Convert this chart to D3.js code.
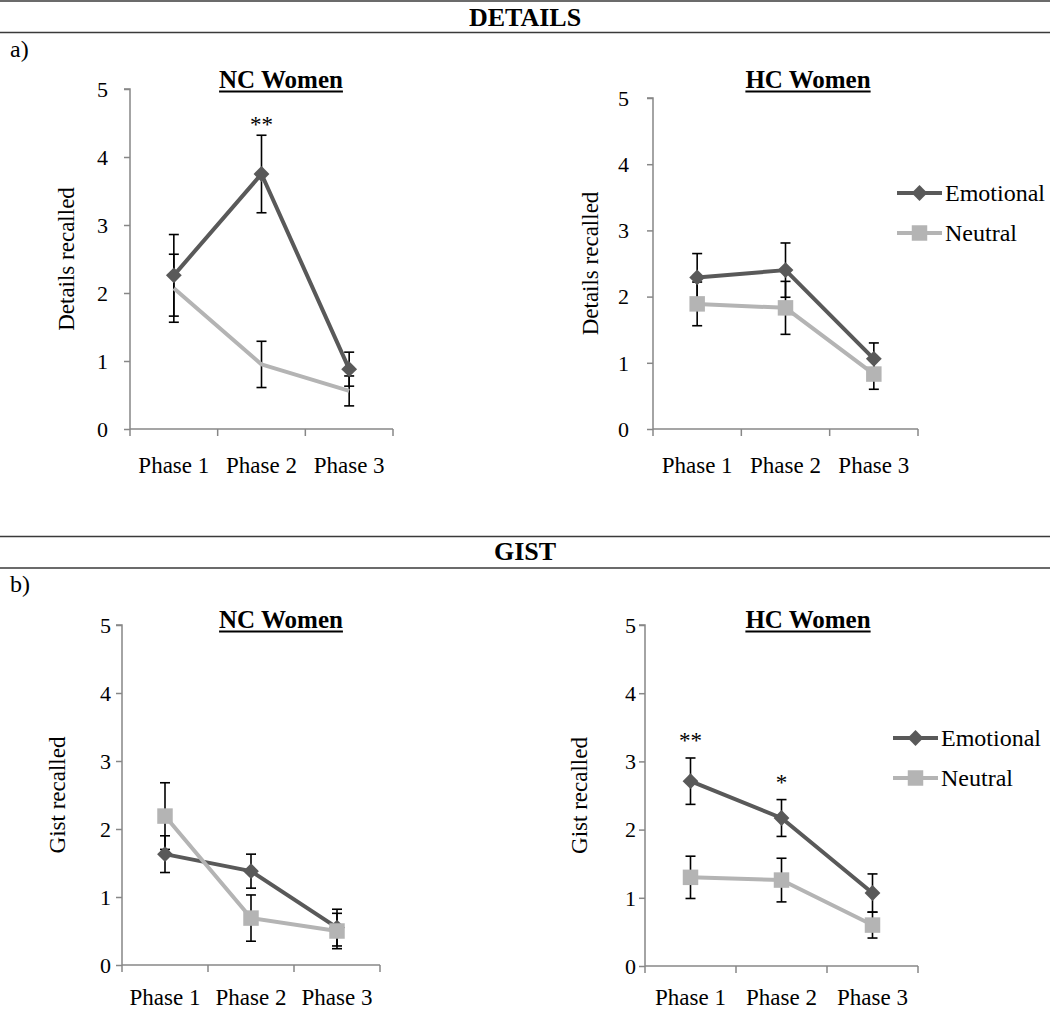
<!DOCTYPE html>
<html>
<head>
<meta charset="utf-8">
<script src="https://cdn.jsdelivr.net/npm/d3@7"></script>
<style>
  html, body { margin: 0; padding: 0; background: #fff; }
  svg { display: block; }
  text { font-family: "Liberation Serif", "Times New Roman", serif; fill: #000; }
</style>
</head>
<body>
<svg id="chart" width="1050" height="1009" font-family="Liberation Serif, Times New Roman, serif"></svg>
<script>
// ---------- DATA ----------
const phases = ["Phase 1", "Phase 2", "Phase 3"];
const yTickValues = [0, 1, 2, 3, 4, 5];
const seriesNames = ["Emotional", "Neutral"];
const sectionTitles = ["DETAILS", "GIST"];
const sectionLetters = ["a)", "b)"];
const groupTitles = ["NC Women", "HC Women"];
const yAxisTitles = ["Details recalled", "Gist recalled"];

// Details recalled
const detailsNCEmotional    = [2.26, 3.75, 0.88];
const detailsNCEmotionalErr = [0.60, 0.57, 0.25];
const detailsNCNeutral      = [2.07, 0.95, 0.56];
const detailsNCNeutralErr   = [0.50, 0.34, 0.22];
const detailsNCSig          = ["", "**", ""];

const detailsHCEmotional    = [2.29, 2.40, 1.06];
const detailsHCEmotionalErr = [0.36, 0.41, 0.24];
const detailsHCNeutral      = [1.89, 1.83, 0.83];
const detailsHCNeutralErr   = [0.33, 0.40, 0.23];
const detailsHCSig          = ["", "", ""];

// Gist recalled
const gistNCEmotional    = [1.63, 1.38, 0.55];
const gistNCEmotionalErr = [0.27, 0.25, 0.27];
const gistNCNeutral      = [2.19, 0.69, 0.50];
const gistNCNeutralErr   = [0.49, 0.34, 0.26];
const gistNCSig          = ["", "", ""];

const gistHCEmotional    = [2.71, 2.17, 1.07];
const gistHCEmotionalErr = [0.34, 0.27, 0.28];
const gistHCNeutral      = [1.30, 1.26, 0.60];
const gistHCNeutralErr   = [0.31, 0.32, 0.19];
const gistHCSig          = ["**", "*", ""];

// ---------- STYLE / LAYOUT ----------
const emoColor = "#595959";
const neuColor = "#b4b4b4";
const axisColor = "#878787";

const panels = [
  { title: groupTitles[0], ylabel: yAxisTitles[0],
    emo: detailsNCEmotional, emoErr: detailsNCEmotionalErr,
    neu: detailsNCNeutral, neuErr: detailsNCNeutralErr, sig: detailsNCSig,
    x0: 130, x1: 393, yTop: 89, yBot: 429, tickLabelX: 108, ylabelX: 66,
    titleCx: 281, titleY: 88, phaseY: 473, neuMarkers: false, legend: null, sigOffset: 13 },
  { title: groupTitles[1], ylabel: yAxisTitles[0],
    emo: detailsHCEmotional, emoErr: detailsHCEmotionalErr,
    neu: detailsHCNeutral, neuErr: detailsHCNeutralErr, sig: detailsHCSig,
    x0: 653, x1: 918, yTop: 98, yBot: 429, tickLabelX: 629, ylabelX: 590,
    titleCx: 808, titleY: 88, phaseY: 473, neuMarkers: true,
    legend: { x: 897, y: 193, dy: 40 }, sigOffset: 15 },
  { title: groupTitles[0], ylabel: yAxisTitles[1],
    emo: gistNCEmotional, emoErr: gistNCEmotionalErr,
    neu: gistNCNeutral, neuErr: gistNCNeutralErr, sig: gistNCSig,
    x0: 122, x1: 380, yTop: 625, yBot: 965, tickLabelX: 111, ylabelX: 57,
    titleCx: 281, titleY: 628, phaseY: 1005, neuMarkers: true, legend: null, sigOffset: 15 },
  { title: groupTitles[1], ylabel: yAxisTitles[1],
    emo: gistHCEmotional, emoErr: gistHCEmotionalErr,
    neu: gistHCNeutral, neuErr: gistHCNeutralErr, sig: gistHCSig,
    x0: 645, x1: 918, yTop: 625, yBot: 966, tickLabelX: 636, ylabelX: 579,
    titleCx: 808, titleY: 628, phaseY: 1005, neuMarkers: true,
    legend: { x: 893, y: 738, dy: 40 }, sigOffset: 20 }
];

const svg = d3.select("#chart");

// ---------- SECTION HEADERS ----------
const sections = [
  { name: sectionTitles[0], letter: sectionLetters[0], lineTop: 1, lineBot: 32.5, textY: 26, letterY: 57 },
  { name: sectionTitles[1], letter: sectionLetters[1], lineTop: 536.5, lineBot: 568, textY: 560, letterY: 592 }
];
sections.forEach(s => {
  svg.append("line").attr("x1", 0).attr("x2", 1050).attr("y1", s.lineTop).attr("y2", s.lineTop)
    .attr("stroke", "#3a3a3a").attr("stroke-width", 1.6);
  svg.append("line").attr("x1", 0).attr("x2", 1050).attr("y1", s.lineBot).attr("y2", s.lineBot)
    .attr("stroke", "#3a3a3a").attr("stroke-width", 1.6);
  svg.append("text").attr("x", 525).attr("y", s.textY).attr("text-anchor", "middle")
    .attr("font-size", 26).attr("font-weight", "bold").text(s.name);
  svg.append("text").attr("x", 10).attr("y", s.letterY)
    .attr("font-size", 24).text(s.letter);
});

// ---------- PANELS ----------
// diamond = rotated square so width equals height
const diamond = d3.symbol().type(d3.symbolSquare).size(125);
const square = d3.symbol().type(d3.symbolSquare).size(240);

panels.forEach(p => {
  const g = svg.append("g");
  const x = d3.scaleBand().domain(phases).range([p.x0, p.x1]).paddingInner(0).paddingOuter(0);
  const y = d3.scaleLinear().domain([0, 5]).range([p.yBot, p.yTop]);
  const cx = d => x(d) + x.bandwidth() / 2;

  // y axis
  const yAxis = d3.axisLeft(y).tickValues(yTickValues).tickSize(6).tickFormat("");
  const ya = g.append("g").attr("transform", `translate(${p.x0},0)`).call(yAxis);
  ya.selectAll("path, line").attr("stroke", axisColor).attr("stroke-width", 1.5);
  ya.select(".domain").attr("d", `M-6,${y(5)}H0V${y(0)}`);

  // y tick labels
  g.selectAll(".ytl").data(yTickValues).join("text")
    .attr("x", p.tickLabelX).attr("y", d => y(d)).attr("dy", "0.35em")
    .attr("text-anchor", "end").attr("font-size", 22).text(d => d);

  // x axis: ticks at band boundaries
  const bounds = phases.map(d => x(d)).concat([p.x1]);
  g.append("line").attr("x1", p.x0).attr("x2", p.x1).attr("y1", y(0)).attr("y2", y(0))
    .attr("stroke", axisColor).attr("stroke-width", 1.5);
  g.selectAll(".xt").data(bounds).join("line")
    .attr("x1", d => d).attr("x2", d => d).attr("y1", y(0)).attr("y2", y(0) + 7)
    .attr("stroke", axisColor).attr("stroke-width", 1.5);
  g.selectAll(".xtl").data(phases).join("text")
    .attr("x", d => cx(d)).attr("y", p.phaseY).attr("text-anchor", "middle")
    .attr("font-size", 23).text(d => d);

  // y axis title
  g.append("text")
    .attr("transform", `translate(${p.ylabelX},${(p.yTop + p.yBot) / 2}) rotate(-90)`)
    .attr("dy", "0.35em").attr("text-anchor", "middle").attr("font-size", 23).text(p.ylabel);

  // panel title, bold underlined
  const t = g.append("text").attr("x", p.titleCx).attr("y", p.titleY).attr("text-anchor", "middle")
    .attr("font-size", 25).attr("font-weight", "bold").text(p.title);
  const tw = t.node().getComputedTextLength();
  g.append("line").attr("x1", p.titleCx - tw / 2).attr("x2", p.titleCx + tw / 2)
    .attr("y1", p.titleY + 3.5).attr("y2", p.titleY + 3.5).attr("stroke", "#000").attr("stroke-width", 1.8);

  const series = [
    { vals: p.emo, err: p.emoErr, color: emoColor, sym: diamond, rot: 45, markers: true },
    { vals: p.neu, err: p.neuErr, color: neuColor, sym: square, rot: 0, markers: p.neuMarkers }
  ];

  // error bars (below lines/markers)
  series.forEach(s => {
    const eb = g.append("g");
    phases.forEach((ph, i) => {
      const xc = cx(ph), lo = y(s.vals[i] - s.err[i]), hi = y(s.vals[i] + s.err[i]);
      eb.append("line").attr("x1", xc).attr("x2", xc).attr("y1", lo).attr("y2", hi)
        .attr("stroke", "#000").attr("stroke-width", 1.6);
      [lo, hi].forEach(yy => eb.append("line").attr("x1", xc - 5).attr("x2", xc + 5)
        .attr("y1", yy).attr("y2", yy).attr("stroke", "#000").attr("stroke-width", 1.6));
    });
  });

  // lines and markers
  const line = d3.line().x((d, i) => cx(phases[i])).y(d => y(d));
  series.forEach(s => {
    g.append("path").datum(s.vals).attr("d", line).attr("fill", "none")
      .attr("stroke", s.color).attr("stroke-width", 4).attr("stroke-linejoin", "round");
    if (s.markers) {
      g.selectAll(null).data(s.vals).join("path")
        .attr("d", s.sym)
        .attr("transform", (d, i) => `translate(${cx(phases[i])},${y(d)}) rotate(${s.rot})`)
        .attr("fill", s.color);
    }
  });

  // significance stars
  g.selectAll(".sig").data(p.sig).join("text")
    .attr("x", (d, i) => cx(phases[i]))
    .attr("y", (d, i) => y(p.emo[i] + p.emoErr[i]) - p.sigOffset + 10)
    .attr("text-anchor", "middle").attr("font-size", 23).text(d => d);

  // legend
  if (p.legend) {
    const L = p.legend;
    const items = [
      { name: seriesNames[0], color: emoColor, sym: diamond, rot: 45 },
      { name: seriesNames[1], color: neuColor, sym: square, rot: 0 }
    ];
    items.forEach((it, i) => {
      const ly = L.y + i * L.dy;
      g.append("line").attr("x1", L.x).attr("x2", L.x + 45).attr("y1", ly).attr("y2", ly)
        .attr("stroke", it.color).attr("stroke-width", 4);
      g.append("path").attr("d", it.sym)
        .attr("transform", `translate(${L.x + 22.5},${ly}) rotate(${it.rot})`).attr("fill", it.color);
      g.append("text").attr("x", L.x + 48).attr("y", ly).attr("dy", "0.35em")
        .attr("font-size", 24).text(it.name);
    });
  }
});
</script>
</body>
</html>
